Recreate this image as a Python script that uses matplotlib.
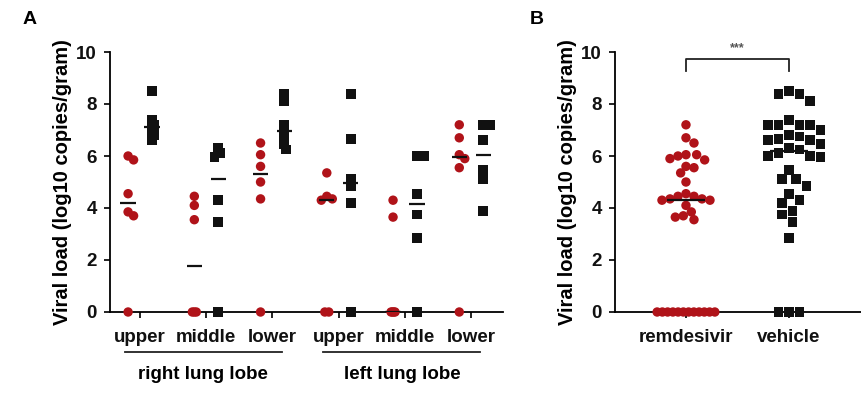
import numpy as np
import matplotlib
matplotlib.use('Agg')
import matplotlib.pyplot as plt
import matplotlib.transforms as mtransforms

plt.rcParams['font.family'] = ['Liberation Sans', 'DejaVu Sans']
plt.rcParams['font.weight'] = 'bold'
plt.rcParams['axes.labelweight'] = 'bold'

# lung segments (panel A) and lobes
segments = ['upper', 'middle', 'lower', 'upper', 'middle', 'lower']
lobes = ['right lung lobe', 'left lung lobe']
treatments = ['remdesivir', 'vehicle']

# viral load, log10 copies/gram, one list per segment
remdesivir = [
    [6.0, 5.85, 4.55, 3.85, 3.7, 0],
    [4.45, 4.1, 3.55, 0, 0, 0],
    [6.5, 6.05, 5.6, 5.0, 4.35, 0],
    [5.35, 4.45, 4.35, 4.3, 0, 0],
    [4.3, 3.65, 0, 0, 0, 0],
    [7.2, 6.7, 6.05, 5.9, 5.55, 0],
]
vehicle = [
    [8.5, 7.4, 7.2, 7.0, 6.8, 6.6],
    [6.3, 6.1, 5.95, 4.3, 3.45, 0],
    [8.4, 8.1, 7.2, 6.75, 6.45, 6.25],
    [8.4, 6.65, 5.1, 4.85, 4.2, 0],
    [6.0, 6.0, 4.55, 3.75, 2.85, 0],
    [7.2, 7.2, 6.6, 5.45, 5.1, 3.9],
]

RED = '#b01319'
BLACK = '#111111'


def swarm_offsets(vals, dmin_px, xscale, yscale, zero_width):
    """Horizontal offsets so points do not pile up (GraphPad-like scatter)."""
    vals = np.asarray(vals, dtype=float)
    offsets = np.zeros(len(vals))
    zeros = np.where(vals == 0)[0]
    nz = len(zeros)
    if nz > 1:
        s = min(dmin_px / xscale, zero_width / (nz - 1))
        offsets[zeros] = (np.arange(nz) - (nz - 1) / 2) * s
    step = dmin_px / 3 / xscale
    placed = []
    for i in np.argsort(-vals):
        if vals[i] == 0:
            continue
        for k in range(60):
            cand = step * ((k + 1) // 2) * (1 if k % 2 else -1)
            ok = all(np.hypot((cand - ox) * xscale, (vals[i] - oy) * yscale) >= dmin_px
                     for ox, oy in placed)
            if ok:
                break
        placed.append((cand, vals[i]))
        offsets[i] = cand
    return offsets


def style_axis(ax):
    for side in ['top', 'right']:
        ax.spines[side].set_visible(False)
    for side in ['left', 'bottom']:
        ax.spines[side].set_linewidth(1.3)
    ax.set_ylim(0, 10)
    ax.set_yticks(range(0, 11, 2))
    ax.tick_params(axis='both', length=4.5, width=1.3, labelsize=13.5, colors='#111111')
    ax.tick_params(axis='y', pad=5)
    ax.tick_params(axis='x', pad=8)


fig = plt.figure(figsize=(8.61, 3.97), dpi=100)
W, H = 861, 397

# ---------------- Panel A ----------------
axA = fig.add_axes([110 / W, 85 / H, 393 / W, 260 / H])
style_axis(axA)
axA.set_xlim(-0.453, 5.48)
xsA, ysA = 66.3, 26.0
for i in range(len(segments)):
    for vals, dx, col, mk, sz in [(remdesivir[i], -0.18, RED, 'o', 46),
                                  (vehicle[i], 0.18, BLACK, 's', 50)]:
        off = swarm_offsets(vals, 5.5, xsA, ysA, 0.06)
        axA.scatter(i + dx + off, vals, s=sz, marker=mk, color=col,
                    edgecolors='none', clip_on=False, zorder=3)
        med = np.median(vals)
        axA.plot([i + dx - 0.115, i + dx + 0.115], [med, med], color=BLACK,
                 lw=1.6, zorder=4, solid_capstyle='butt')
axA.set_xticks(range(len(segments)))
axA.set_xticklabels(segments)
axA.set_ylabel('Viral load (log10 copies/gram)', fontsize=14.5, labelpad=3)

trans = mtransforms.blended_transform_factory(axA.transData, axA.transAxes)
for j, lobe in enumerate(lobes):
    x0, x1 = 3 * j - 0.23, 3 * j + 2.14
    axA.plot([x0, x1], [-0.154, -0.154], color='#222222', lw=1.3,
             transform=trans, clip_on=False)
    axA.text((x0 + x1) / 2, -0.24, lobe, transform=trans, ha='center',
             va='center', fontsize=13.5)

# ---------------- Panel B ----------------
axB = fig.add_axes([615 / W, 85 / H, 246 / W, 260 / H])
style_axis(axB)
axB.set_xlim(-0.689, 1.699)
xsB = 103.0
pooled = [np.concatenate(remdesivir), np.concatenate(vehicle)]
for i, (vals, col, mk, sz) in enumerate([(pooled[0], RED, 'o', 46),
                                         (pooled[1], BLACK, 's', 50)]):
    off = swarm_offsets(vals, 8.0 if i == 0 else 10.5, xsB, ysA, 0.56)
    axB.scatter(i + off, vals, s=sz, marker=mk, color=col,
                edgecolors='none', clip_on=False, zorder=3)
    med = np.median(vals)
    axB.plot([i - 0.18, i + 0.18], [med, med], color=BLACK, lw=1.6, zorder=4,
             solid_capstyle='butt')
axB.set_xticks(range(len(treatments)))
axB.set_xticklabels(treatments)
axB.set_ylabel('Viral load (log10 copies/gram)', fontsize=14.5, labelpad=3)

# significance bracket
axB.plot([0, 0, 1, 1], [9.28, 9.73, 9.73, 9.28], color='#222222', lw=1.3,
         clip_on=False)
axB.text(0.5, 10.15, '***', ha='center', va='center', fontsize=9,
         color='#555555', clip_on=False)

# panel letters
fig.text(30 / W, 1 - 19 / H, 'A', fontsize=14, ha='center', va='center')
fig.text(537 / W, 1 - 19 / H, 'B', fontsize=14, ha='center', va='center')

fig.savefig('out.png', dpi=100)
